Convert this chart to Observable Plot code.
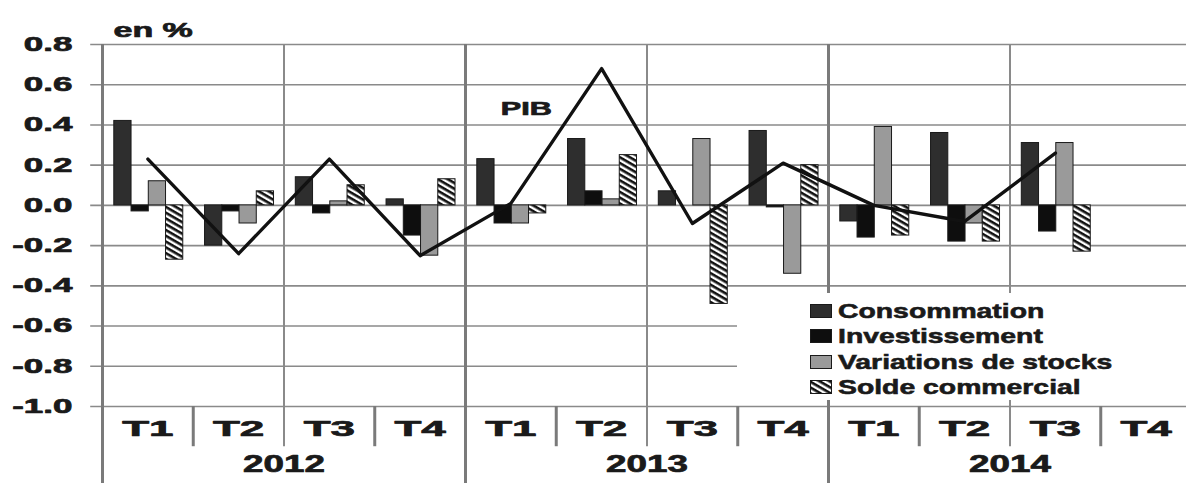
<!DOCTYPE html>
<html><head><meta charset="utf-8">
<script src="https://cdn.jsdelivr.net/npm/d3@7"></script>
<script src="https://cdn.jsdelivr.net/npm/@observablehq/plot@0.6"></script>
<style>
body{margin:0;background:#fff;}
#wrap{position:relative;width:1186px;height:483px;overflow:hidden;font-family:"Liberation Sans",Arial,sans-serif;font-weight:bold;background:#fff;}
#legend{position:absolute;left:737px;top:293px;width:449px;height:107px;background:#fff;}
.item{position:absolute;left:73px;height:25px;display:flex;align-items:center;}
.sw{width:22px;height:14px;margin-right:6px;display:block;}
.lab{font-size:21px;color:#1a1a1a;-webkit-text-stroke:0.6px #1a1a1a;transform:scaleX(1.35);transform-origin:left center;white-space:nowrap;display:inline-block;}
</style></head><body><div id="wrap"></div>
<script>
// ---- data ----
const years = ["2012", "2013", "2014"];
const quarterLabels = ["T1", "T2", "T3", "T4"];
const consommation   = [0.42, -0.20, 0.14, 0.03, 0.23, 0.33, 0.07, 0.37, -0.08, 0.36, 0.31, null];
const investissement = [-0.03, -0.03, -0.04, -0.15, -0.09, 0.07, 0.00, -0.01, -0.16, -0.18, -0.13, null];
const variations     = [0.12, -0.09, 0.02, -0.25, -0.09, 0.03, 0.33, -0.34, 0.39, -0.09, 0.31, null];
const solde          = [-0.27, 0.07, 0.10, 0.13, -0.04, 0.25, -0.49, 0.20, -0.15, -0.18, -0.23, null];
const pib            = [0.23, -0.24, 0.23, -0.25, 0.01, 0.68, -0.09, 0.21, 0.00, -0.08, 0.26, null];
const seriesNames = ["Consommation", "Investissement", "Variations de stocks", "Solde commercial"];
const yTicks = [-1.0, -0.8, -0.6, -0.4, -0.2, 0.0, 0.2, 0.4, 0.6, 0.8];
const yTickLabels = ["-1.0", "-0.8", "-0.6", "-0.4", "-0.2", "0.0", "0.2", "0.4", "0.6", "0.8"];
const unitLabel = "en %";
const pibLabel = "PIB";
const pibLabelPos = {q: 4.67, v: 0.48};

// ---- layout / styles ----
const seriesValues = [consommation, investissement, variations, solde];
const seriesFill = ["#2e2e2e", "#0e0e0e", "#9a9a9a", "url(#hatch)"];
const barOffset = 0.13, barWidth = 0.19;
const nQ = years.length * quarterLabels.length;
const qIdx = d3.range(nQ);
const quarters = qIdx.map(i => ({q: i, label: quarterLabels[i % 4]}));
const yearRows = years.map((y, i) => ({q: i * 4 + 2, label: y}));
const pibRows = qIdx.filter(i => pib[i] != null).map(i => ({q: i, v: pib[i]}));
const ink = "#1a1a1a";
const heavy = {fill: ink, stroke: ink, strokeWidth: 0.7};

const barMarks = seriesValues.map((vals, s) => {
  const rows = qIdx.filter(i => vals[i] != null).map(i => ({q: i, v: vals[i]}));
  return Plot.rect(rows, {
    x1: d => d.q + barOffset + s * barWidth,
    x2: d => d.q + barOffset + (s + 1) * barWidth,
    y1: d => 0, y2: d => d.v,
    fill: seriesFill[s], stroke: ink, strokeWidth: 1
  });
});

const plot = Plot.plot({
  width: 1186, height: 483,
  marginLeft: 102, marginRight: 0, marginTop: 44, marginBottom: 77,
  x: {domain: [0, nQ], range: [102, 1191], axis: null},
  y: {domain: [-1, 0.8], range: [406, 44], axis: null},
  style: {fontFamily: "'Liberation Sans', Arial, sans-serif", fontWeight: "bold", background: "white", color: ink, overflow: "visible"},
  marks: [
    Plot.ruleY(yTicks, {x1: d => -0.13, x2: d => nQ, stroke: "#8a8a8a", strokeWidth: 1.6}),
    Plot.ruleX([2, 6, 10], {y1: d => -1.2, y2: d => 0.8, stroke: "#8a8a8a", strokeWidth: 2}),
    Plot.ruleX([1, 3, 5, 7, 9, 11], {y1: d => -1, y2: d => -1.2, stroke: "#7a7a7a", strokeWidth: 3}),
    Plot.ruleX([0, 4, 8], {y1: d => -1.4, y2: d => 0.8, stroke: "#7a7a7a", strokeWidth: 3}),
    ...barMarks,
    Plot.line(pibRows, {x: d => d.q + 0.5, y: d => d.v, stroke: "#111", strokeWidth: 3.4}),
    Plot.text([pibLabel], {x: d => pibLabelPos.q, y: d => pibLabelPos.v, text: d => d, fontSize: 18, ...heavy}),
    Plot.text(yTicks, {y: d => d, frameAnchor: "left", dx: -30, textAnchor: "end", text: (d, i) => yTickLabels[i], fontSize: 20, ...heavy}),
    Plot.text(quarters, {x: d => d.q + 0.5, frameAnchor: "bottom", dy: 29, text: d => d.label, fontSize: 22, ...heavy}),
    Plot.text(yearRows, {x: d => d.q, frameAnchor: "bottom", dy: 65, text: d => d.label, fontSize: 23, ...heavy}),
    Plot.text([unitLabel], {frameAnchor: "top-left", dx: 11, dy: -22, textAnchor: "start", text: d => d, fontSize: 20, ...heavy})
  ]
});

// hatch pattern
const ns = "http://www.w3.org/2000/svg";
const defs = document.createElementNS(ns, "defs");
defs.innerHTML = '<pattern id="hatch" patternUnits="userSpaceOnUse" width="8" height="5" patternTransform="rotate(30)"><rect width="8" height="5" fill="#fff"/><rect width="8" height="2.6" fill="#111"/></pattern>';
plot.insertBefore(defs, plot.firstChild);

// horizontal stretch of text, as in the reference
const scaleFor = t => /^-?\d\.\d$/.test(t) ? 1.75 : /^T\d$/.test(t) ? 2.0 : /^\d{4}$/.test(t) ? 1.6 : (t === pibLabel || t === unitLabel) ? 1.7 : 1;
plot.querySelectorAll("text").forEach(el => {
  const s = scaleFor(el.textContent.trim());
  if (s !== 1) {
    const tr = el.getAttribute("transform") || "";
    el.setAttribute("transform", tr + ` scale(${s},1)`);
  }
});

const wrap = document.getElementById("wrap");
wrap.appendChild(plot);

// legend
const legend = document.createElement("div");
legend.id = "legend";
const rowTops = [5, 30, 56, 81];
seriesNames.forEach((name, s) => {
  const it = document.createElement("div");
  it.className = "item";
  it.style.top = rowTops[s] + "px";
  it.innerHTML = `<svg class="sw" width="22" height="14"><rect x="0.5" y="0.5" width="21" height="13" fill="${seriesFill[s]}" stroke="${ink}" stroke-width="1"/></svg><span class="lab">${name}</span>`;
  legend.appendChild(it);
});
wrap.appendChild(legend);
</script>
</body></html>
